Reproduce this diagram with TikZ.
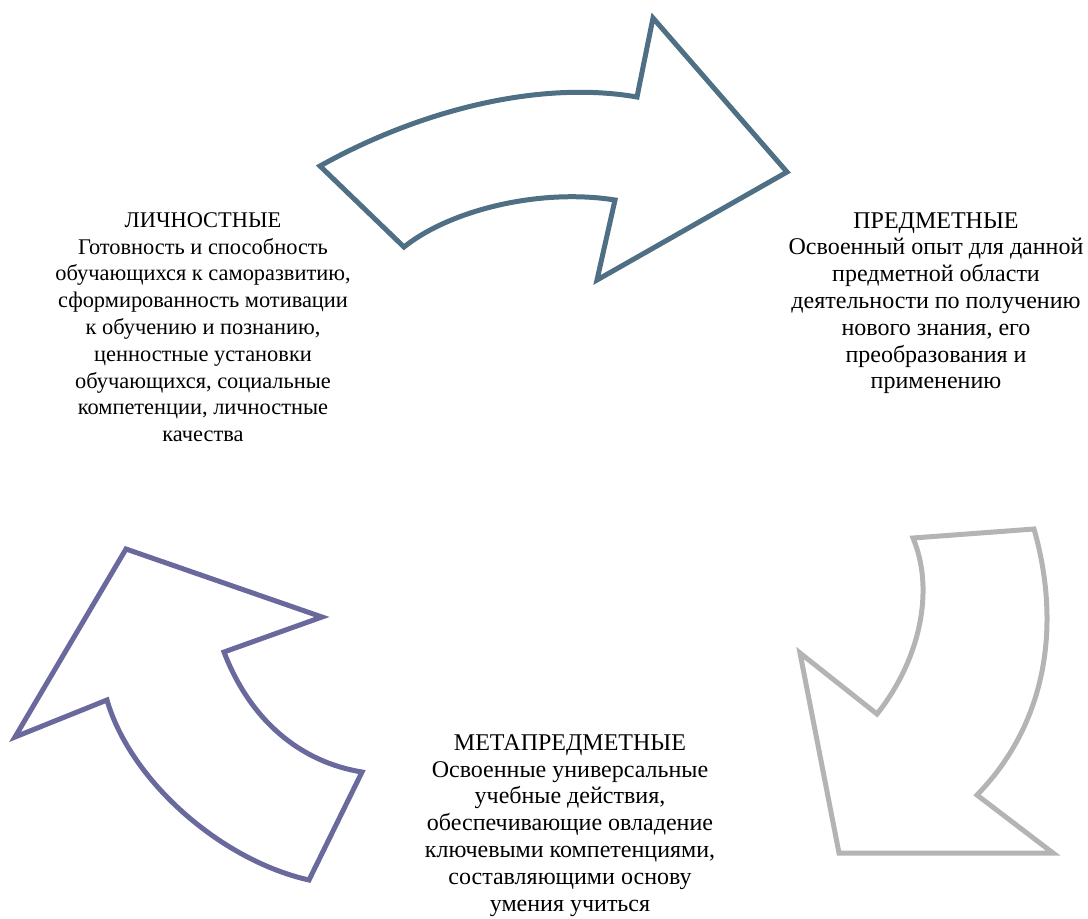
\documentclass[tikz,border=0pt]{standalone}
\usepackage{fontspec}
\setmainfont{Liberation Serif}
\definecolor{bleugris}{RGB}{79,111,133}
\definecolor{grisclair}{RGB}{180,180,180}
\definecolor{violet}{RGB}{106,105,158}
\tikzset{
    contour/.style={line width=2.5pt, line join=miter},
    bloc/.style={align=center, inner sep=0pt, anchor=north, font=\fontsize{12}{13.4}\selectfont},
    petitbloc/.style={bloc, font=\fontsize{11.2}{13.4}\selectfont},
  }
\begin{document}
\begin{tikzpicture}[x=0.5pt,y=-0.5pt]
                                    \useasboundingbox (0,0) rectangle (1088,918);
                                    %fleche du haut
                                    \coordinate (H1) at (320,166);
                                    \coordinate (H2) at (637,97);
                                    \coordinate (H3) at (653,18);
                                    \coordinate (H4) at (787,172);
                                    \coordinate (H5) at (597,280);
                                    \coordinate (H6) at (615,200);
                                    \coordinate (H7) at (404,247);
                                    \draw [contour, draw=bleugris] (H1) .. controls (420,110) and (540,80) .. (H2) -- (H3) -- (H4) -- (H5) -- (H6) .. controls (540,188) and (450,210) .. (H7) -- cycle;
                                    %fleche de droite
                                    \coordinate (D1) at (913,538);
                                    \coordinate (D2) at (1034,529);
                                    \coordinate (D3) at (977,795);
                                    \coordinate (D4) at (1053,853);
                                    \coordinate (D5) at (839,853);
                                    \coordinate (D6) at (800,653);
                                    \coordinate (D7) at (877,714);
                                    \draw [contour, draw=grisclair] (D1) -- (D2) .. controls (1060,620) and (1050,720) .. (D3) -- (D4) -- (D5) -- (D6) -- (D7) .. controls (920,660) and (935,590) .. (D1) -- cycle;
                                    %fleche de gauche
                                    \coordinate (G1) at (126,549);
                                    \coordinate (G2) at (322,617);
                                    \coordinate (G3) at (224,652);
                                    \coordinate (G4) at (362,772);
                                    \coordinate (G5) at (309,880);
                                    \coordinate (G6) at (107,700);
                                    \coordinate (G7) at (15,737);
                                    \draw [contour, draw=violet] (G1) -- (G2) -- (G3) .. controls (250,720) and (300,762) .. (G4) -- (G5) .. controls (220,860) and (130,780) .. (G6) -- (G7) -- cycle;
                                    %textes
                                    \node [petitbloc] (lichn) at (203,212) {ЛИЧНОСТНЫЕ\\Готовность и способность\\обучающихся к саморазвитию,\\сформированность мотивации\\к обучению и познанию,\\ценностные установки\\обучающихся, социальные\\компетенции, личностные\\качества};
                                    \node [bloc] (predm) at (936,212) {ПРЕДМЕТНЫЕ\\Освоенный опыт для данной\\предметной области\\деятельности по получению\\нового знания, его\\преобразования и\\применению};
                                    \node [bloc] (metapr) at (570,734) {МЕТАПРЕДМЕТНЫЕ\\Освоенные универсальные\\учебные действия,\\обеспечивающие овладение\\ключевыми компетенциями,\\составляющими основу\\умения учиться};
\end{tikzpicture}
\end{document}
